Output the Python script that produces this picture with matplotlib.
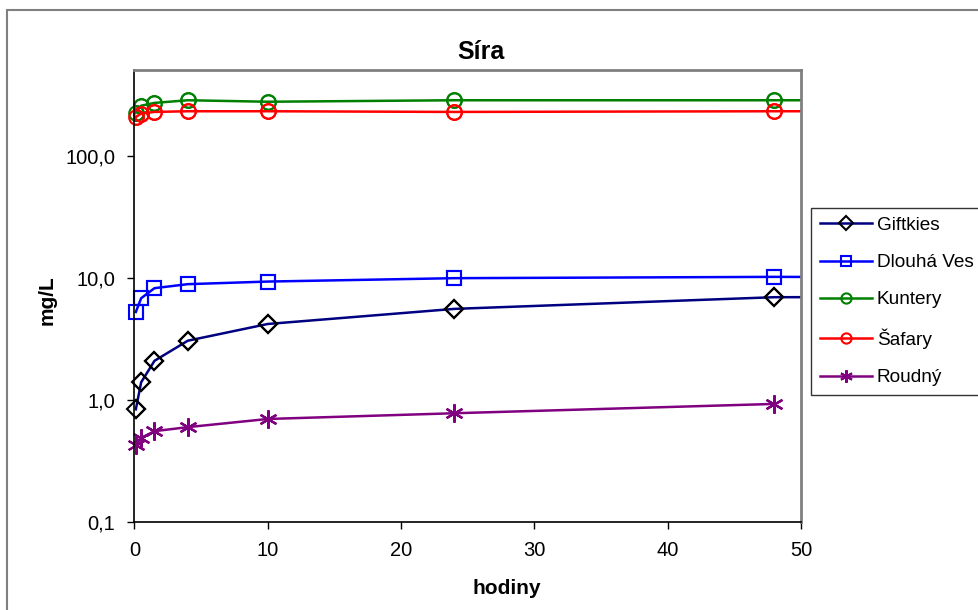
import numpy as np
import matplotlib.pyplot as plt
from matplotlib.patches import Rectangle

plt.rcParams['font.family'] = ['Liberation Sans', 'DejaVu Sans']
plt.rcParams['font.size'] = 14.5

# ==================== data ====================
hours = [0.1, 0.5, 1.5, 4, 10, 24, 48, 72]
giftkies = [0.84, 1.40, 2.10, 3.07, 4.21, 5.6, 6.98, 7.05]
dlouha_ves = [5.28, 6.85, 8.28, 8.93, 9.38, 10.0, 10.25, 10.1]
kuntery = [228, 260, 274, 288, 280, 288, 288, 288]
safary = [210, 224, 231, 234, 234, 231, 234, 234]
hours_roudny = [0.1, 0.5, 1.5, 4, 10, 24, 48]
roudny = [0.43, 0.49, 0.556, 0.60, 0.70, 0.78, 0.93]

y_ticks = [0.1, 1, 10, 100]
y_ticklabels = ['0,1', '1,0', '10,0', '100,0']
x_ticks = [0, 10, 20, 30, 40, 50]
X_MAX = 50

SERIES = [
    ('Giftkies', hours, giftkies, '#000080', 'D', 'black', 9.5),
    ('Dlouhá Ves', hours, dlouha_ves, '#0000FF', 's', '#0000FF', 10),
    ('Kuntery', hours, kuntery, '#008000', 'o', '#008000', 10.5),
    ('Šafary', hours, safary, '#FF0000', 'o', '#FF0000', 10.5),
    ('Roudný', hours_roudny, roudny, '#800080', (6, 2, 0), '#800080', 13),
]

W, H = 979, 610
fig = plt.figure(figsize=(W / 100, H / 100), dpi=100)

# chart area border (cut off on the right and bottom)
fig.patches.append(Rectangle((7 / W, -0.1), 1.2, 1 - 10 / H + 0.1,
                             transform=fig.transFigure, fill=False,
                             edgecolor='#808080', linewidth=1.5))

ax = fig.add_axes([134.5 / W, 1 - 522 / H, (801 - 134.5) / W, (522 - 70) / H])

for label, xs, ys, color, marker, mec, ms in SERIES:
    xs = np.array(xs)
    ys = np.array(ys)
    inside = xs <= X_MAX
    # line (clipped at the axis edge), markers only for visible points
    ax.plot(xs, ys, color=color, linewidth=1.8, marker=marker,
            markevery=list(np.where(inside)[0]),
            markersize=ms, markerfacecolor='none', markeredgecolor=mec,
            markeredgewidth=1.5, label=label)
    # markers unclipped, as in the original
    ax.plot(xs[inside], ys[inside], linestyle='none', marker=marker,
            markersize=ms, markerfacecolor='none', markeredgecolor=mec,
            markeredgewidth=1.5, clip_on=False)

ax.set_yscale('log')
ax.set_ylim(0.1, 510)
ax.set_xlim(0, X_MAX)
ax.set_yticks(y_ticks)
ax.set_yticklabels(y_ticklabels)
ax.yaxis.set_minor_locator(plt.NullLocator())
ax.set_xticks(x_ticks)
ax.set_xticklabels([str(t) for t in x_ticks])
ax.tick_params(direction='out', length=5, width=1, pad=9)

for side in ['left', 'bottom']:
    ax.spines[side].set_color('black')
    ax.spines[side].set_linewidth(1.2)
for side in ['top', 'right']:
    ax.spines[side].set_color('#808080')
    ax.spines[side].set_linewidth(2)

fig.text(481 / W, 1 - 52 / H, 'Síra', ha='center', va='center',
         fontsize=18, fontweight='bold')
fig.text(47 / W, 1 - 300 / H, 'mg/L', ha='center', va='center',
         rotation=90, fontsize=15, fontweight='bold')
fig.text(507 / W, 1 - 588 / H, 'hodiny', ha='center', va='center',
         fontsize=15, fontweight='bold')

leg = fig.legend(loc='upper left', bbox_to_anchor=(811 / W, 1 - 208 / H),
                 frameon=True, fancybox=False, edgecolor='black',
                 fontsize=13.7, markerscale=0.7, handlelength=2.75,
                 handletextpad=0.25, labelspacing=1.05, borderpad=0.45,
                 borderaxespad=0)
leg.get_frame().set_linewidth(1)

plt.savefig('out.png', dpi=100)
